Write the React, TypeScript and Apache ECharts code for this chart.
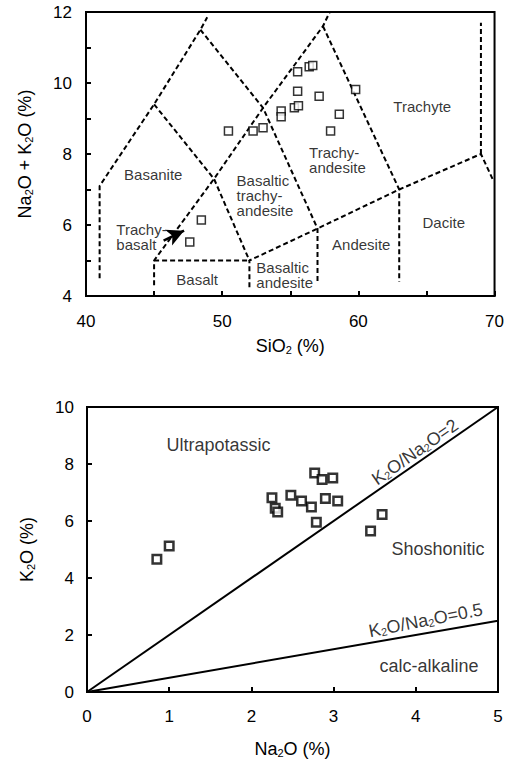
import React, { useEffect, useRef } from 'react';
import * as echarts from 'echarts';

// ---- TAS diagram data (SiO2 vs Na2O+K2O) ----
const tasSiO2 = [50.46, 52.27, 53.0, 54.33, 54.33, 55.3, 55.6, 55.54, 55.54, 56.39, 56.65, 57.12, 58.6, 57.96, 59.8, 48.47, 47.62];
const tasAlkali = [8.65, 8.65, 8.74, 9.21, 9.05, 9.3, 9.36, 9.77, 10.32, 10.46, 10.49, 9.63, 9.12, 8.65, 9.82, 6.14, 5.52];

// ---- K2O vs Na2O data ----
const na2o = [0.85, 1.0, 2.25, 2.29, 2.32, 2.48, 2.61, 2.73, 2.9, 3.05, 2.79, 2.77, 2.86, 2.99, 3.45, 3.59];
const k2o = [4.66, 5.12, 6.82, 6.45, 6.32, 6.9, 6.7, 6.49, 6.79, 6.7, 5.96, 7.68, 7.46, 7.51, 5.65, 6.23];

// TAS field boundaries (dashed)
const tasBoundaries: number[][][] = [
  [[41, 4.5], [41, 7.1], [45, 9.4], [48.4, 11.5], [48.9, 11.85]],
  [[45, 4.3], [45, 5], [49.4, 7.3], [53, 9.3], [57.4, 11.6], [57.9, 12]],
  [[45, 5], [52, 5]],
  [[52, 4.25], [52, 5], [57, 5.9], [63, 7], [69, 8], [69.85, 7.3]],
  [[69, 8], [69, 11.7]],
  [[45, 9.4], [49.4, 7.3], [52, 5]],
  [[48.4, 11.5], [53, 9.3], [57, 5.9], [57, 4.4]],
  [[57.4, 11.6], [63, 7], [63, 4.4]],
];

// Arrow (Trachy-basalt pointer)
const arrowFrom = [45.7, 5.56];
const arrowTo = [47.2, 5.84];

// Ratio lines K2O/Na2O
const ratioLines = [
  { ratio: 2, xEnd: 5 },
  { ratio: 0.5, xEnd: 5 },
];

// Field names
const tasFieldLabels: [number, number, string, string][] = [
  [44.94, 7.41, 'Basanite', 'center'],
  [42.23, 5.67, 'Trachy-\nbasalt', 'left'],
  [51.06, 6.83, 'Basaltic\ntrachy-\nandesite', 'left'],
  [56.38, 7.82, 'Trachy-\nandesite', 'left'],
  [64.69, 9.35, 'Trachyte', 'center'],
  [66.27, 6.06, 'Dacite', 'center'],
  [60.21, 5.44, 'Andesite', 'center'],
  [52.51, 4.59, 'Basaltic\nandesite', 'left'],
  [48.16, 4.47, 'Basalt', 'center'],
];

const kFieldLabels: [number, number, string, number][] = [
  [1.6, 8.66, 'Ultrapotassic', 0],
  [4.27, 5.03, 'Shoshonitic', 0],
  [4.16, 0.91, 'calc-alkaline', 0],
  [3.99, 8.42, 'K{s|2}O/Na{s|2}O=2', 35],
  [4.12, 2.52, 'K{s|2}O/Na{s|2}O=0.5', 11],
];

const FONT = 'Liberation Sans, Arial, Helvetica, sans-serif';
const sub = { fontSize: 11, verticalAlign: 'bottom', fontFamily: FONT, color: '#000' };

export default function App() {
  const ref = useRef<HTMLDivElement>(null);
  useEffect(() => {
    if (!ref.current) return;
    const chart = echarts.init(ref.current, undefined, { renderer: 'svg' });

    const axisCommon = {
      axisLine: { show: true, lineStyle: { color: '#000', width: 2 } },
      axisTick: { show: true, inside: true, length: 5, lineStyle: { color: '#000', width: 2 } },
      splitLine: { show: false },
    };
    const labelStyle = { color: '#000', fontSize: 17, fontFamily: FONT };
    const nameStyle = { color: '#000', fontSize: 18, fontFamily: FONT, rich: { s: sub } };

    const series: any[] = [];
    tasBoundaries.forEach((seg) => {
      series.push({
        type: 'line',
        xAxisIndex: 0,
        yAxisIndex: 0,
        data: seg,
        symbol: 'none',
        silent: true,
        lineStyle: { color: '#000', width: 2, type: [5, 3] },
      });
    });
    series.push({
      type: 'scatter',
      xAxisIndex: 0,
      yAxisIndex: 0,
      data: tasSiO2.map((x, i) => [x, tasAlkali[i]]),
      symbol: 'rect',
      symbolSize: 8,
      itemStyle: { color: '#fff', borderColor: '#000', borderWidth: 1.5 },
      z: 5,
    });
    // arrow shaft + head
    series.push({
      type: 'line',
      xAxisIndex: 0,
      yAxisIndex: 0,
      silent: true,
      showSymbol: true,
      showAllSymbol: true,
      lineStyle: { color: '#000', width: 2.5, type: 'solid' },
      itemStyle: { color: '#000', borderWidth: 0 },
      data: [
        { value: arrowFrom, symbol: 'none' },
        { value: arrowTo, symbol: 'arrow', symbolSize: [13, 17], symbolRotate: -66 },
      ],
      z: 6,
    });
    series.push({
      type: 'scatter',
      xAxisIndex: 0,
      yAxisIndex: 0,
      silent: true,
      symbolSize: 1,
      itemStyle: { color: 'rgba(0,0,0,0)' },
      data: tasFieldLabels.map((l) => ({
        value: [l[0], l[1]],
        label: {
          show: true,
          position: 'inside',
          formatter: l[2],
          align: l[3],
          verticalAlign: 'middle',
          color: '#000',
          fontSize: 15,
          lineHeight: 15,
          fontFamily: FONT,
        },
      })),
      z: 4,
    });

    ratioLines.forEach((r) => {
      series.push({
        type: 'line',
        xAxisIndex: 1,
        yAxisIndex: 1,
        data: [[0, 0], [r.xEnd, r.xEnd * r.ratio]],
        symbol: 'none',
        silent: true,
        lineStyle: { color: '#000', width: 2 },
      });
    });
    series.push({
      type: 'scatter',
      xAxisIndex: 1,
      yAxisIndex: 1,
      data: na2o.map((x, i) => [x, k2o[i]]),
      symbol: 'rect',
      symbolSize: 8.5,
      itemStyle: { color: '#fff', borderColor: '#000', borderWidth: 2.5 },
      z: 5,
    });
    series.push({
      type: 'scatter',
      xAxisIndex: 1,
      yAxisIndex: 1,
      silent: true,
      symbolSize: 1,
      itemStyle: { color: 'rgba(0,0,0,0)' },
      data: kFieldLabels.map((l) => ({
        value: [l[0], l[1]],
        label: {
          show: true,
          position: 'inside',
          formatter: l[2],
          rotate: l[3],
          align: 'center',
          verticalAlign: 'middle',
          color: '#000',
          fontSize: 18,
          fontFamily: FONT,
          rich: { s: sub },
        },
      })),
      z: 4,
    });

    chart.setOption({
      animation: false,
      backgroundColor: '#fff',
      textStyle: { fontFamily: FONT },
      grid: [
        { left: 86, top: 12, width: 413, height: 284, show: true, borderColor: '#000', borderWidth: 2 },
        { left: 87, top: 407, width: 411, height: 285, show: true, borderColor: '#000', borderWidth: 2 },
      ],
      xAxis: [
        {
          type: 'value', gridIndex: 0, min: 40, max: 70, interval: 5,
          ...axisCommon,
          axisLabel: { ...labelStyle, margin: 17, formatter: (v: number) => (v % 10 === 0 ? String(v) : '') },
          name: 'SiO{s|2} (%)', nameLocation: 'middle', nameGap: 41, nameTextStyle: nameStyle,
        },
        {
          type: 'value', gridIndex: 1, min: 0, max: 5, interval: 1,
          ...axisCommon,
          axisLabel: { ...labelStyle, margin: 16 },
          name: 'Na{s|2}O (%)', nameLocation: 'middle', nameGap: 48, nameTextStyle: nameStyle,
        },
      ],
      yAxis: [
        {
          type: 'value', gridIndex: 0, min: 4, max: 12, interval: 1,
          ...axisCommon,
          axisLabel: { ...labelStyle, margin: 14, formatter: (v: number) => (v % 2 === 0 ? String(v) : '') },
          name: 'Na{s|2}O + K{s|2}O (%)', nameLocation: 'middle', nameRotate: 90, nameGap: 52, nameTextStyle: nameStyle,
        },
        {
          type: 'value', gridIndex: 1, min: 0, max: 10, interval: 2,
          ...axisCommon,
          axisLabel: { ...labelStyle, margin: 13 },
          name: 'K{s|2}O (%)', nameLocation: 'middle', nameRotate: 90, nameGap: 51, nameTextStyle: nameStyle,
        },
      ],
      series,
    });
    return () => chart.dispose();
  }, []);
  return <div ref={ref} style={{ position: 'absolute', left: 0, top: 0, width: 507, height: 761 }} />;
}
